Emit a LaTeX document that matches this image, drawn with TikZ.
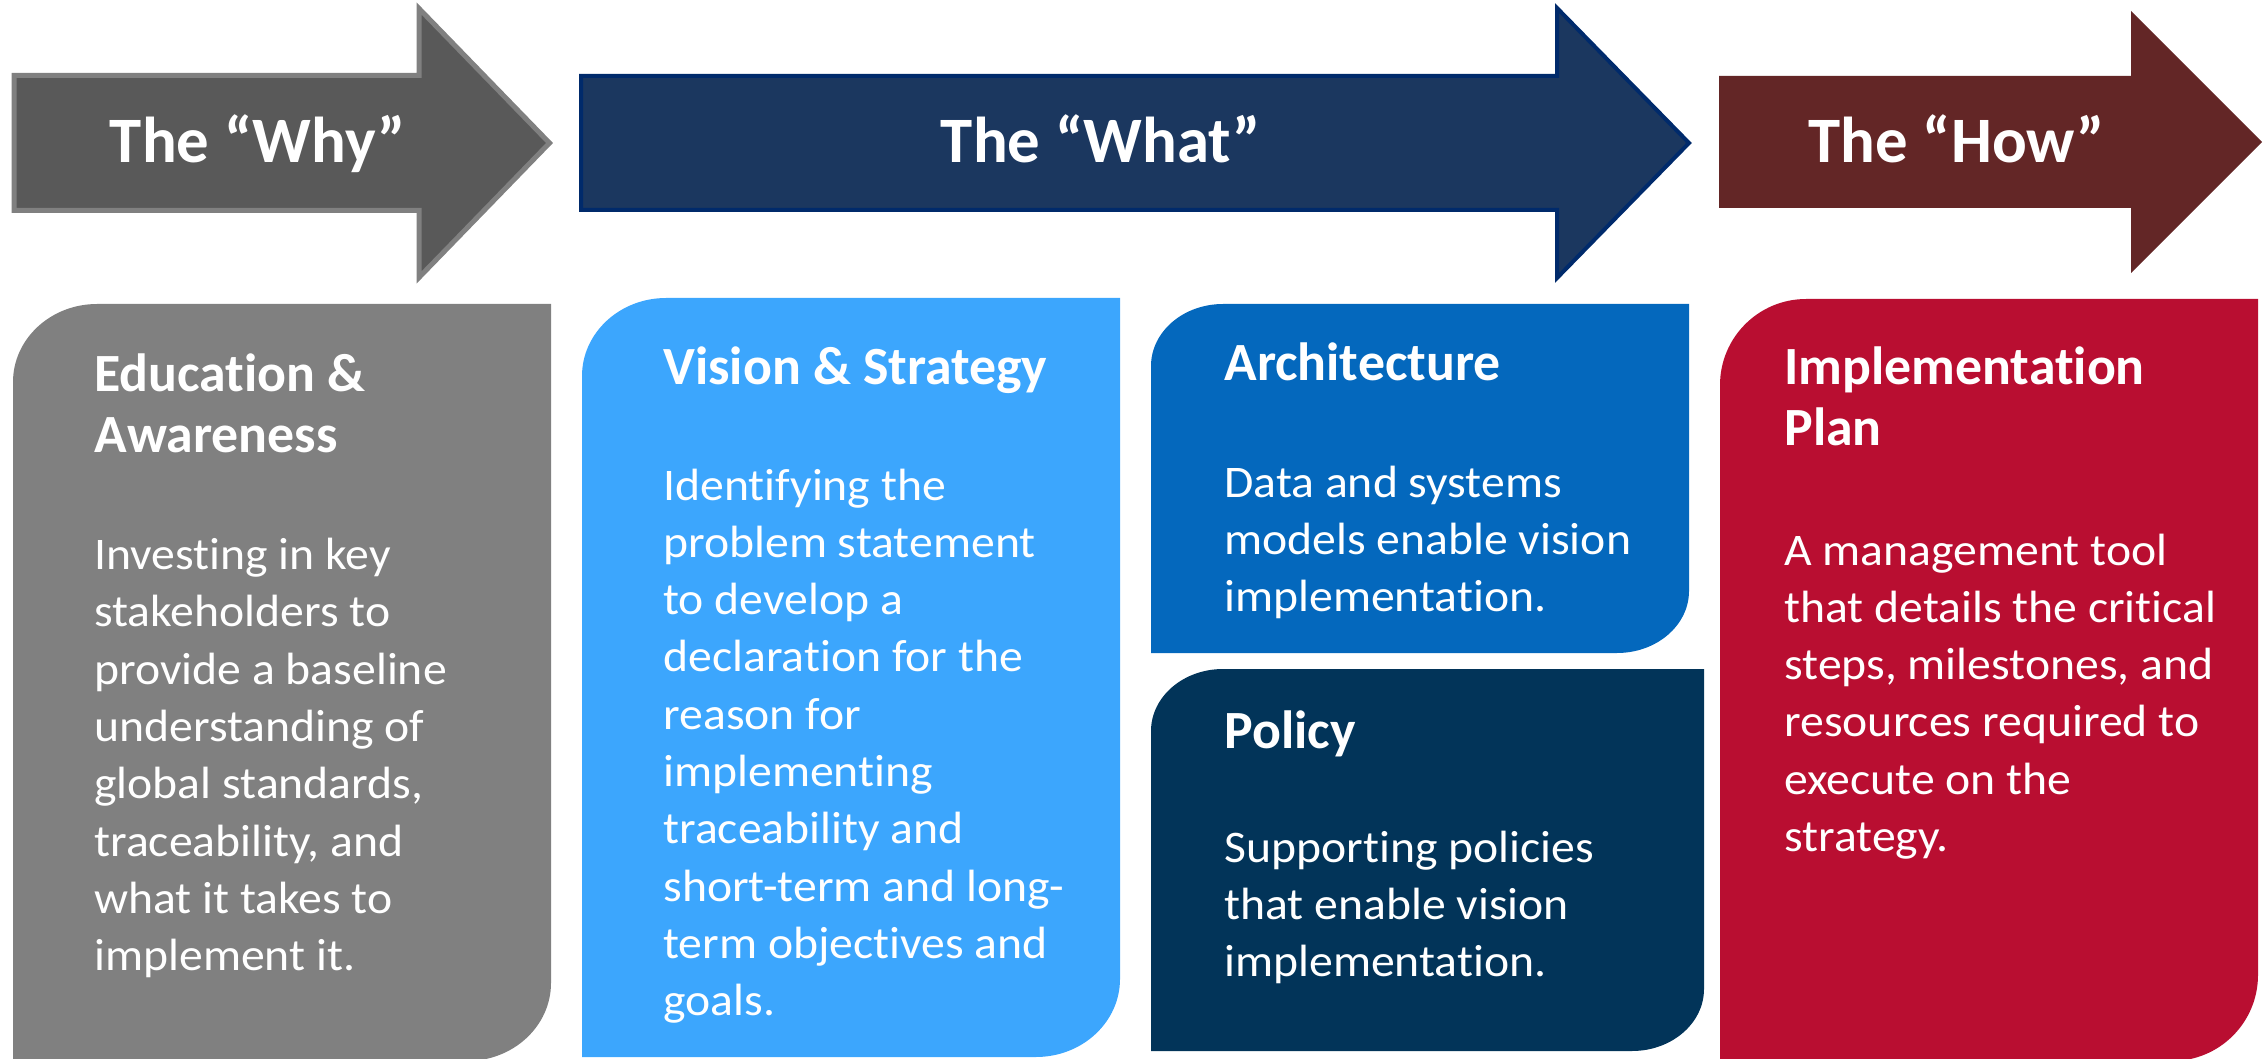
\documentclass[tikz,border=0pt]{standalone}
\usepackage{fontspec}
\setmainfont[Ligatures=NoCommon]{Carlito}
\newfontfamily\bodyfont[Ligatures=NoCommon,FakeStretch=1.055]{Carlito}
\definecolor{whyfill}{HTML}{595959}
\definecolor{whyborder}{HTML}{808080}
\definecolor{whatfill}{HTML}{1B375F}
\definecolor{whatborder}{HTML}{002A6B}
\definecolor{howfill}{HTML}{632626}
\definecolor{educol}{HTML}{808080}
\definecolor{viscol}{HTML}{3CA6FD}
\definecolor{archcol}{HTML}{0468BD}
\definecolor{polcol}{HTML}{023459}
\definecolor{implcol}{HTML}{B90E31}
\newcommand\mylines[1]{\begin{tabular}[t]{@{}l@{}}#1\end{tabular}}
\newcommand\mybox[7]{%
  \fill[#1] (#2,#5) -- (#2,{#3+#7}) .. controls (#2,{#3+#7*0.448}) and ({#2+#6*0.448},#3) .. ({#2+#6},#3)
    -- (#4,#3) -- (#4,{#5-#7}) .. controls (#4,{#5-#7*0.448}) and ({#4-#6*0.448},#5) .. ({#4-#6},#5) -- cycle;}
\begin{document}
\begin{tikzpicture}[x=0.5pt,y=-0.5pt,
  arrowlabel/.style={text=white, font=\fontsize{32.4}{38}\selectfont\bfseries, anchor=base, inner sep=0pt},
  headtext/.style={text=white, font=\fontsize{26.9}{30.5}\selectfont\bfseries, anchor=base west, inner sep=0pt},
  bodytext/.style={text=white, font=\bodyfont\fontsize{22.6}{28.65}\selectfont, anchor=base west, inner sep=0pt}]
\useasboundingbox (0,0) rectangle (2265,1059);
% arrows
\filldraw[fill=whyfill, draw=whyborder, line width=2.5pt]
  (14,75.5) -- (419,75.5) -- (419,8.5) -- (549.5,143) -- (419,277.5) -- (419,210.5) -- (14,210.5) -- cycle;
\filldraw[fill=whatfill, draw=whatborder, line width=2pt]
  (581,76) -- (1557,76) -- (1557,8) -- (1689,143) -- (1557,278) -- (1557,210) -- (581,210) -- cycle;
\fill[howfill]
  (1719,76) -- (2131,76) -- (2131,11) -- (2262,142) -- (2131,273) -- (2131,208) -- (1719,208) -- cycle;
\node[arrowlabel] (why) at (258,163) {The “Why”};
\node[arrowlabel] (what) at (1101,163) {The “What”};
\node[arrowlabel] (how) at (1957,163) {The “How”};
% boxes
\mybox{educol}{13}{304}{551}{1061}{84}{78}
\mybox{viscol}{582}{298}{1120}{1057}{84}{78}
\mybox{archcol}{1151}{304}{1689}{653}{72}{62}
\mybox{polcol}{1151}{669}{1704}{1051}{72}{62}
\mybox{implcol}{1720}{299}{2258}{1061}{86}{86}
% texts
\node[headtext] (eduh) at (94,391) {\mylines{Education \&\\Awareness}};
\node[bodytext] (edub) at (94,569.5) {\mylines{Investing in key\\stakeholders to\\provide a baseline\\understanding of\\global standards,\\traceability, and\\what it takes to\\implement it.}};
\node[headtext] (vish) at (663,384) {\mylines{Vision \& Strategy}};
\node[bodytext] (visb) at (663,500) {\mylines{Identifying the\\problem statement\\to develop a\\declaration for the\\reason for\\implementing\\traceability and\\short-term and long-\\term objectives and\\goals.}};
\node[headtext] (archh) at (1224,380) {\mylines{Architecture}};
\node[bodytext] (archb) at (1224,497) {\mylines{Data and systems\\models enable vision\\implementation.}};
\node[headtext] (polh) at (1224,748) {\mylines{Policy}};
\node[bodytext] (polb) at (1224,862) {\mylines{Supporting policies\\that enable vision\\implementation.}};
\node[headtext] (implh) at (1784,384.5) {\mylines{Implementation\\Plan}};
\node[bodytext] (implb) at (1784,565) {\mylines{A management tool\\that details the critical\\steps, milestones, and\\resources required to\\execute on the\\strategy.}};
\end{tikzpicture}
\end{document}
